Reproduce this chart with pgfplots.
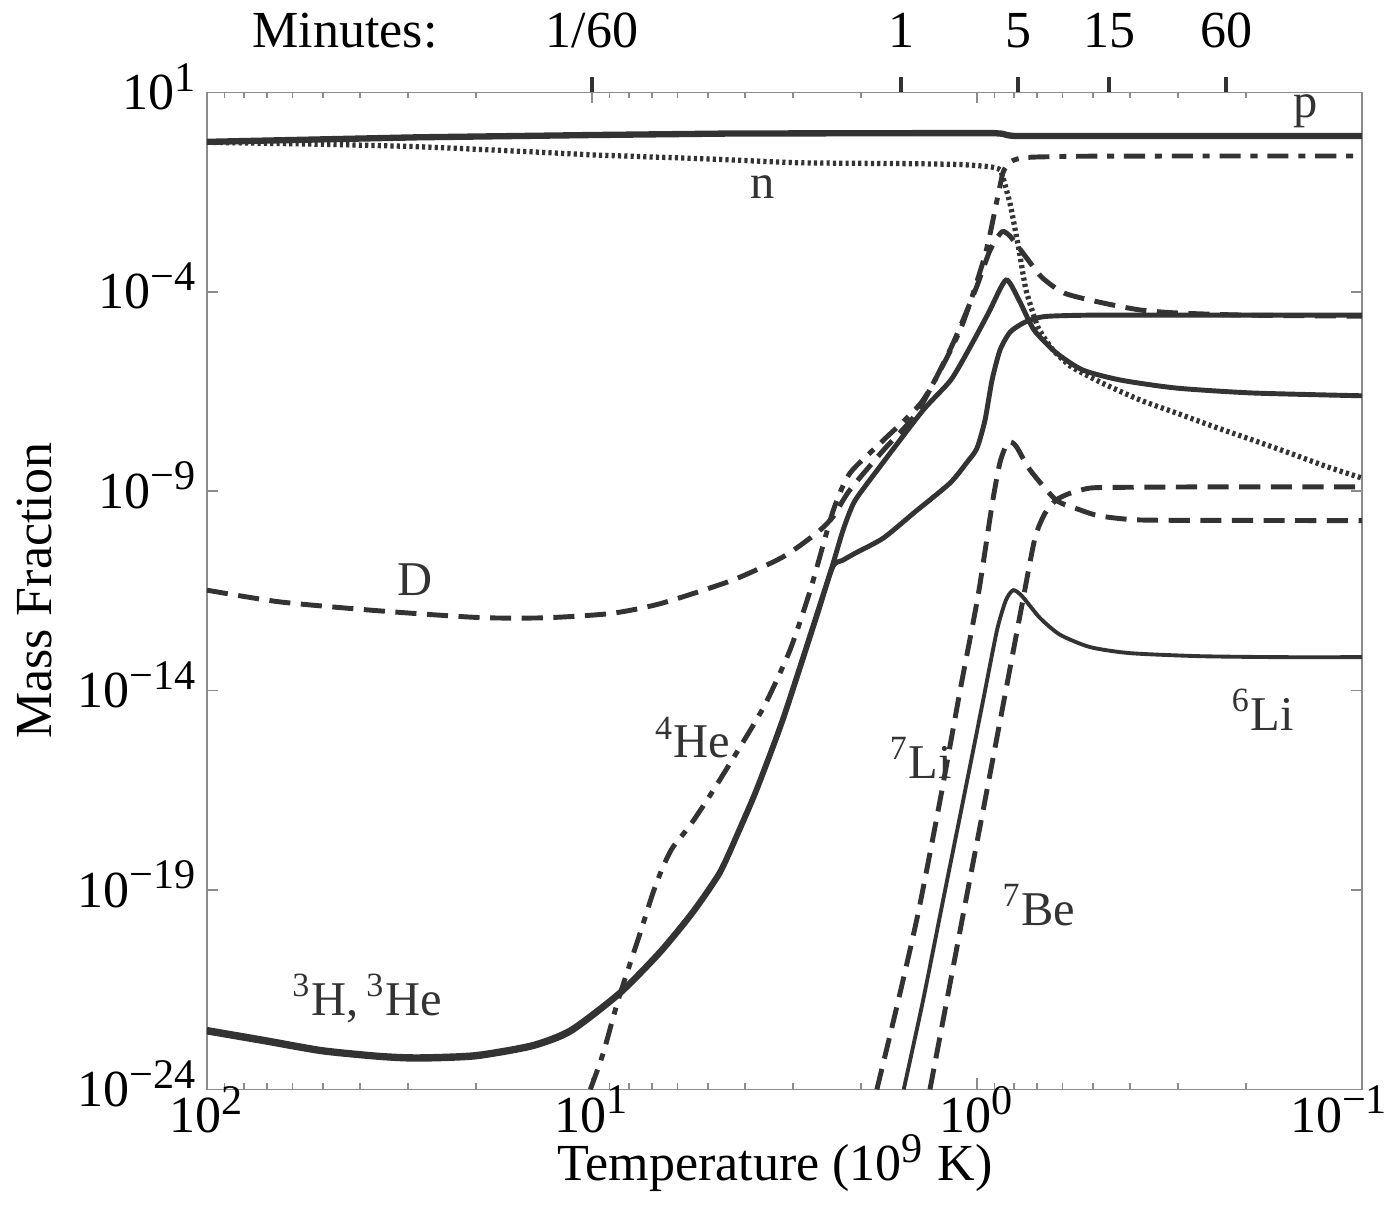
\documentclass[border=0pt]{standalone}
\usepackage{fontspec}
\setmainfont{Liberation Serif}
\usepackage{pgfplots}
\pgfplotsset{compat=1.18}
\definecolor{ink}{HTML}{333333}
\definecolor{frame}{HTML}{8C8C8C}
\newcommand{\su}[1]{\textsuperscript{\fontsize{12}{12}\selectfont #1}}
\begin{document}
\begin{tikzpicture}[font=\fontsize{14.8}{17}\selectfont]
\begin{axis}[
  name=ax,
  width=115.5mm, height=99.7mm, scale only axis,
  xmode=log, ymode=log, x dir=reverse,
  xmin=0.1, xmax=100, ymin=1e-24, ymax=10,
  axis line style={frame, line width=0.5pt},
  tick style={frame, line width=0.5pt},
  tick align=inside,
  major tick length=1.1mm, minor tick length=0.6mm,
  xtick={0.1,1,10,100},
  xticklabels={\hspace*{-4.5mm}10\su{−1},10\su{0},10\su{1},10\su{2}},
  xticklabel style={inner xsep=0pt, inner ysep=1pt, yshift=0.75mm},
  ytick={1e-24,1e-19,1e-14,1e-9,1e-4,10},
  yticklabels={10\su{−24},10\su{−19},10\su{−14},10\su{−9},10\su{−4},10\su{1}},
  yminorticks=false,
  yticklabel style={anchor=base east, yshift=-1.7mm, xshift=0.3mm},
  xlabel={Temperature (10\su{9} K)},
  ylabel={Mass Fraction},
  xlabel style={at={(axis description cs:0.5,-0.0915)}, anchor=base, xshift=-0.95mm, inner ysep=1pt},
  ylabel style={at={(axis description cs:-0.149,0.5)}, anchor=center},
]
% p
\addplot[ink, line width=1.8pt] coordinates {
(100,0.575) (28.3,0.748) (9.77,0.855) (4.38,0.93) (1.47,0.95) (0.90,0.95) (0.86,0.92) (0.83,0.84) (0.80,0.805) (0.1,0.805)};
% n
\addplot[ink, line width=1.5pt, dash pattern=on 0.9pt off 0.9pt, smooth, tension=0.3] coordinates {
(100,0.56) (50,0.50) (28.3,0.435) (15,0.33) (9.77,0.269) (5,0.215) (2.9,0.172) (1.47,0.163) (1.1,0.155) (0.93,0.137) (0.87,0.113) (0.84,0.038) (0.817,0.0134) (0.778,1.11e-3) (0.746,1.11e-4) (0.695,1.31e-5) (0.635,3.46e-6) (0.567,1.29e-6) (0.473,5.14e-7) (0.377,1.93e-7) (0.303,9.1e-8) (0.241,4.06e-8) (0.192,1.91e-8) (0.154,9.0e-9) (0.1225,4.03e-9) (0.1,2.14e-9)};
% D
\addplot[ink, line width=1.4pt, dash pattern=on 6pt off 3pt, smooth, tension=0.4] coordinates {
(100,3.3e-12) (64.8,1.68e-12) (35.7,1.0e-12) (19.7,6.8e-13) (13.2,6.7e-13) (8.93,8.6e-13) (6.62,1.53e-12) (4.31,5.9e-12) (3.19,2.26e-11) (2.61,8.9e-11) (2.37,2.24e-10) (2.14,1.07e-9) (1.75,1.07e-8) (1.43,9.5e-8) (1.175,3.5e-6) (1.01,1.1e-4) (0.925,1.1e-3) (0.861,3.2e-3) (0.817,2.36e-3) (0.746,7.4e-4) (0.680,2.35e-4) (0.594,9.3e-5) (0.473,5.3e-5) (0.377,3.5e-5) (0.303,2.95e-5) (0.2,2.6e-5) (0.1,2.45e-5)};
% 4He
\addplot[ink, line width=1.4pt, dash pattern=on 6pt off 2.8pt on 2pt off 2.8pt, smooth, tension=0.4] coordinates {
(10.1,1e-24) (9.35,8.1e-24) (8.55,1.74e-22) (7.50,8.3e-21) (6.95,8.3e-20) (6.55,3.7e-19) (6.17,1.17e-18) (5.56,4.2e-18) (4.93,2.4e-17) (4.20,2.9e-16) (3.56,4.3e-15) (3.06,1.04e-13) (2.71,3.3e-12) (2.37,3.0e-10) (2.14,2.8e-9) (1.75,1.9e-8) (1.38,1.93e-7) (1.106,1.1e-5) (0.953,8.4e-4) (0.887,0.02) (0.855,0.10) (0.82,0.18) (0.77,0.225) (0.7,0.24) (0.55,0.25) (0.4,0.253) (0.25,0.254) (0.1,0.254)};
% 3H
\addplot[ink, line width=1.4pt, smooth, tension=0.4] coordinates {
(100,3.2e-23) (70.8,1.8e-23) (50.2,1.0e-23) (35.6,7.2e-24) (28.3,6.6e-24) (20.1,7.5e-24) (14.3,1.33e-23) (11.35,3.2e-23) (8.46,2.8e-22) (6.65,3.0e-21) (5.47,3.0e-20) (4.65,3.0e-19) (4.13,3.7e-18) (3.73,3.7e-17) (3.19,2.1e-15) (2.61,8.0e-13) (2.37,1.45e-11) (2.27,5.9e-11) (2.20,1.5e-10) (2.07,6.0e-10) (1.75,5.4e-9) (1.38,1.08e-7) (1.17,6.1e-7) (1.042,4.1e-6) (0.931,3.1e-5) (0.841,1.97e-4) (0.778,6.2e-5) (0.711,1.1e-5) (0.621,2.9e-6) (0.531,1.09e-6) (0.423,6.1e-7) (0.303,3.85e-7) (0.192,2.9e-7) (0.1,2.47e-7)};
% 3He
\addplot[ink, line width=1.4pt, smooth, tension=0.4] coordinates {
(100,2.75e-23) (70.8,1.55e-23) (50.2,8.7e-24) (35.6,6.3e-24) (28.3,5.7e-24) (20.1,6.5e-24) (14.3,1.16e-23) (11.35,2.75e-23) (8.46,2.45e-22) (6.65,2.6e-21) (5.47,2.6e-20) (4.65,2.6e-19) (4.13,3.2e-18) (3.73,3.2e-17) (3.19,1.8e-15) (2.61,6.9e-13) (2.37,1.26e-11) (2.23,1.86e-11) (2.07,2.8e-11) (1.75,6.7e-11) (1.45,3.0e-10) (1.175,1.6e-9) (1.06,5.4e-9) (1.0,1.2e-8) (0.953,6.1e-8) (0.914,6.1e-7) (0.871,3.5e-6) (0.820,9.8e-6) (0.750,1.74e-5) (0.666,2.4e-5) (0.5,2.6e-5) (0.3,2.6e-5) (0.1,2.6e-5)};
% 7Li
\addplot[ink, line width=1.4pt, dash pattern=on 6pt off 3pt, smooth, tension=0.4] coordinates {
(1.82,1e-24) (1.60,1.74e-22) (1.42,2.8e-20) (1.247,1.78e-17) (1.106,1.02e-14) (0.993,2.48e-12) (0.914,4.5e-10) (0.871,5.4e-9) (0.830,1.7e-8) (0.792,1.35e-8) (0.728,3.4e-9) (0.623,6.0e-10) (0.540,3.4e-10) (0.480,2.4e-10) (0.377,1.9e-10) (0.195,1.85e-10) (0.1,1.83e-10)};
% 7Be
\addplot[ink, line width=1.4pt, dash pattern=on 6pt off 3pt, smooth, tension=0.4] coordinates {
(1.325,1e-24) (1.197,1.74e-22) (1.069,5.5e-20) (0.953,1.78e-17) (0.851,5.7e-15) (0.760,1.86e-12) (0.707,6.7e-11) (0.666,2.8e-10) (0.623,6.0e-10) (0.573,8.9e-10) (0.508,1.2e-9) (0.425,1.25e-9) (0.264,1.28e-9) (0.1,1.28e-9)};
% 6Li
\addplot[ink, line width=1.1pt, smooth, tension=0.4] coordinates {
(1.55,1e-24) (1.38,1.74e-22) (1.225,5.5e-20) (1.086,1.78e-17) (0.964,5.7e-15) (0.887,3.3e-13) (0.841,1.86e-12) (0.805,3.3e-12) (0.764,2.34e-12) (0.686,6.6e-13) (0.608,2.5e-13) (0.508,1.23e-13) (0.401,8.7e-14) (0.264,7.3e-14) (0.163,6.9e-14) (0.1,6.9e-14)};
% labels
\begin{scope}[every node/.style={anchor=base, text=ink, font=\fontsize{13.8}{16}\selectfont}]
\node at (axis cs:0.14,2.3) {p};
\node at (axis cs:3.6,0.0224) {n};
\node at (axis cs:28.8,2.48e-12) {D};
\node at (axis cs:5.47,2.1e-16) {\textsuperscript{4}He};
\node at (axis cs:38.4,7.2e-23) {\textsuperscript{3}H,\,\textsuperscript{3}He};
\node at (axis cs:1.40,6.4e-17) {\textsuperscript{7}Li};
\node at (axis cs:0.690,1.32e-20) {\textsuperscript{7}Be};
\node at (axis cs:0.181,1.02e-15) {\textsuperscript{6}Li};
\end{scope}
\end{axis}
\begin{axis}[
  width=115.5mm, height=99.7mm, scale only axis,
  xmode=log, x dir=reverse, xmin=0.1, xmax=100, ymin=0, ymax=1,
  axis x line*=top, axis y line=none,
  axis line style={draw=none},
  xtick={10,1.575,0.782,0.453,0.225},
  xticklabels={1/60,1,5,15,60},
  xminorticks=false,
  tick align=outside,
  major tick length=1.5mm,
  tick style={ink, line width=1.1pt},
  xticklabel style={anchor=base, yshift=3.0mm},
  extra x ticks={43.8},
  extra x tick labels={Minutes:},
  extra x tick style={major tick length=0pt, xticklabel style={yshift=1.5mm}},
]
\end{axis}
\path ([shift={(-20.7mm,-13.05mm)}]ax.south west) rectangle ([shift={(2.9mm,9.24mm)}]ax.north east);
\end{tikzpicture}
\end{document}
